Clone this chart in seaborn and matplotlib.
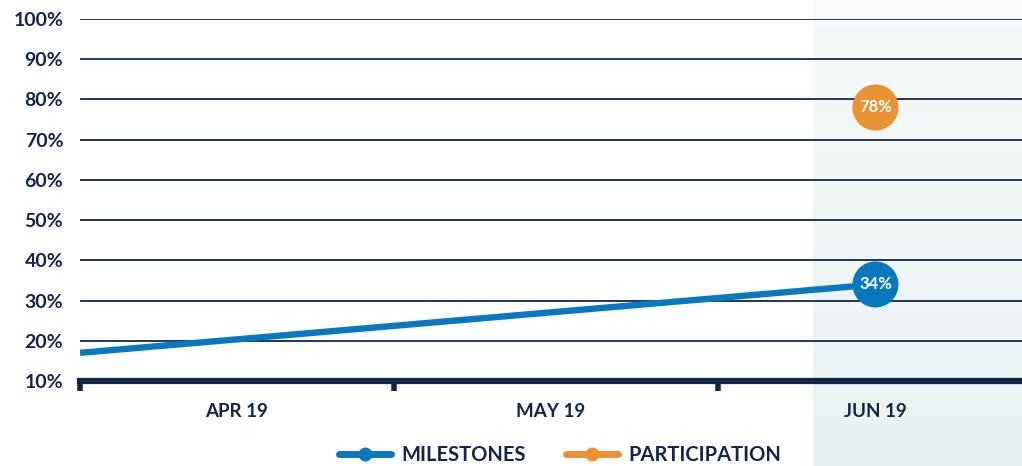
import numpy as np
import pandas as pd
import matplotlib
matplotlib.use("Agg")
import matplotlib.pyplot as plt
import matplotlib.dates as mdates
from matplotlib.lines import Line2D
import seaborn as sns

# ---- data ----
month_labels = ["APR 19", "MAY 19", "JUN 19"]
month_starts = ["2019-04-01", "2019-05-01", "2019-06-01"]
month_mids = ["2019-04-16", "2019-05-16", "2019-06-16"]
milestones_dates = ["2019-04-01", "2019-06-16"]
milestones_values = [17, 34]
participation_dates = ["2019-06-16"]
participation_values = [78]
highlight_start = "2019-06-10"
y_ticks = [10, 20, 30, 40, 50, 60, 70, 80, 90, 100]

NAVY = "#13264a"
BLUE = "#0a78be"
ORANGE = "#ea9233"

sns.set_theme(style="white")
plt.rcParams["font.family"] = ["Lato", "DejaVu Sans"]
plt.rcParams["font.weight"] = "bold"

fig = plt.figure(figsize=(10.22, 4.66), dpi=100)
ax = fig.add_axes([80 / 1022, 1 - 381 / 466, 942 / 1022, 362 / 466])

x_left = pd.Timestamp("2019-04-01")
x_right = pd.Timestamp("2019-06-30")

# gradient highlight region
grad = np.linspace(0, 1, 256).reshape(-1, 1)
cmap = matplotlib.colors.LinearSegmentedColormap.from_list("g", ["#e9f1f2", "#f8fafb"])
ax.imshow(grad, cmap=cmap, aspect="auto", origin="lower",
          extent=[mdates.date2num(pd.Timestamp(highlight_start)), mdates.date2num(x_right) + 5, -12, 106],
          clip_on=False, zorder=0)

# gridlines
for y in y_ticks[1:]:
    ax.axhline(y, color=NAVY, lw=1.3, zorder=1)

# milestones line
md = pd.to_datetime(milestones_dates)
sns.lineplot(x=md, y=milestones_values, color=BLUE, lw=4.6, ax=ax, zorder=3,
             solid_capstyle="butt")

# end dots
sns.scatterplot(x=[md[-1]], y=[milestones_values[-1]], s=1100, color=BLUE,
                edgecolor="none", ax=ax, zorder=4, clip_on=False)
pd_ = pd.to_datetime(participation_dates)
sns.scatterplot(x=pd_, y=participation_values, s=1100, color=ORANGE,
                edgecolor="none", ax=ax, zorder=4, clip_on=False)
ax.text(md[-1], milestones_values[-1], f"{milestones_values[-1]}%", color="white",
        fontsize=12, fontweight="bold", ha="center", va="center", zorder=5)
ax.text(pd_[0], participation_values[0], f"{participation_values[0]}%", color="white",
        fontsize=12, fontweight="bold", ha="center", va="center", zorder=5)

ax.set_xlim(x_left, x_right)
ax.set_ylim(10, 100)
ax.set_xlabel("")
ax.set_ylabel("")

# y axis
ax.set_yticks(y_ticks)
ax.set_yticklabels([f"{v}%" for v in y_ticks], fontsize=14, fontweight="bold", color=NAVY)
ax.tick_params(axis="y", length=0, pad=12)

# x axis: boundaries as major ticks, labels at mid-months
ax.set_xticks(pd.to_datetime(month_starts))
ax.set_xticklabels([""] * len(month_starts))
ax.tick_params(axis="x", which="major", bottom=True, length=7, width=4, color=NAVY, direction="out")
ax.set_xticks(pd.to_datetime(month_mids), minor=True)
ax.set_xticklabels(month_labels, minor=True, fontsize=13.5, fontweight="bold", color=NAVY)
ax.tick_params(axis="x", which="minor", bottom=True, length=0, pad=16)

for s in ["top", "right", "left"]:
    ax.spines[s].set_visible(False)
ax.spines["bottom"].set_color(NAVY)
ax.spines["bottom"].set_linewidth(4.5)
ax.spines["bottom"].set_zorder(6)
ax.patch.set_alpha(0)

handles = [
    Line2D([0], [0], color=BLUE, lw=5, marker="o", markersize=9, label="MILESTONES"),
    Line2D([0], [0], color=ORANGE, lw=5, marker="o", markersize=9, label="PARTICIPATION"),
]
leg = fig.legend(handles=handles, loc="lower center", bbox_to_anchor=(0.548, -0.036), ncol=2,
                 frameon=False, handlelength=2.6, handletextpad=0.5, columnspacing=2.0,
                 prop={"weight": "bold", "size": 14.5})
for t in leg.get_texts():
    t.set_color(NAVY)

fig.savefig("out.png", dpi=100)
